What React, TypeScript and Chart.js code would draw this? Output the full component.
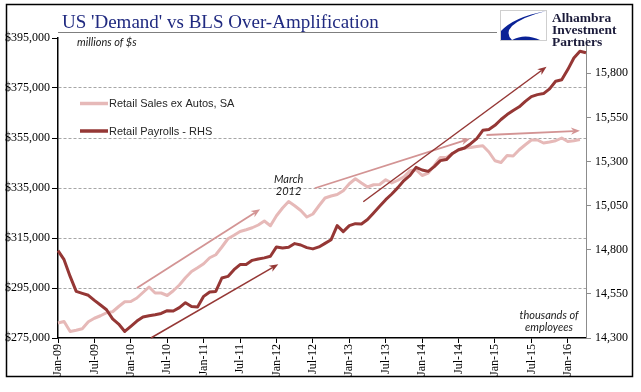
import React, { useEffect, useRef } from "react";
import { Chart, registerables } from "chart.js";

Chart.register(...registerables);

const monthLabels = [
  "Jan-09","Feb-09","Mar-09","Apr-09","May-09","Jun-09","Jul-09","Aug-09","Sep-09","Oct-09","Nov-09","Dec-09",
  "Jan-10","Feb-10","Mar-10","Apr-10","May-10","Jun-10","Jul-10","Aug-10","Sep-10","Oct-10","Nov-10","Dec-10",
  "Jan-11","Feb-11","Mar-11","Apr-11","May-11","Jun-11","Jul-11","Aug-11","Sep-11","Oct-11","Nov-11","Dec-11",
  "Jan-12","Feb-12","Mar-12","Apr-12","May-12","Jun-12","Jul-12","Aug-12","Sep-12","Oct-12","Nov-12","Dec-12",
  "Jan-13","Feb-13","Mar-13","Apr-13","May-13","Jun-13","Jul-13","Aug-13","Sep-13","Oct-13","Nov-13","Dec-13",
  "Jan-14","Feb-14","Mar-14","Apr-14","May-14","Jun-14","Jul-14","Aug-14","Sep-14","Oct-14","Nov-14","Dec-14",
  "Jan-15","Feb-15","Mar-15","Apr-15","May-15","Jun-15","Jul-15","Aug-15","Sep-15","Oct-15","Nov-15","Dec-15",
  "Jan-16","Feb-16","Mar-16","Apr-16",
];

// Retail Sales ex Autos, SA (millions of $, left axis)
const retailSales = [
  281000, 281600, 277600, 278100, 278700, 281500, 282900, 283900, 285100, 285500, 287600, 289500,
  289600, 291000, 293200, 295400, 293000, 293000, 292000, 293900, 296200, 299100, 301600, 303100,
  304700, 307100, 308300, 311400, 314700, 316100, 317600, 318300, 319100, 320200, 321800, 319900,
  323900, 327000, 329600, 327900, 326000, 323400, 324600, 327900, 331000, 331800, 332400, 333900,
  336700, 338700, 337000, 335400, 336300, 336400, 338300, 337000, 338100, 339500, 341900, 342300,
  340000, 341000, 344000, 347200, 347200, 348800, 350200, 351000, 351200, 351600, 351900, 349400,
  345900, 345200, 348000, 347800, 350300, 352300, 354200, 354200, 353000, 353400, 353900, 355000,
  353600, 353900, 354400, null,
];

// Retail Payrolls (thousands of employees, right axis)
const retailPayrolls = [
  14795, 14744, 14649, 14564, 14553, 14542, 14513, 14487, 14460, 14408, 14379, 14337,
  14366, 14396, 14419, 14426, 14432, 14439, 14455, 14453, 14472, 14500, 14479, 14476,
  14536, 14561, 14564, 14640, 14649, 14687, 14716, 14717, 14740, 14748, 14754, 14763,
  14816, 14810, 14814, 14835, 14827, 14812, 14805, 14816, 14836, 14857, 14937, 14903,
  14937, 14948, 14946, 14971, 15009, 15046, 15084, 15116, 15152, 15192, 15222, 15267,
  15252, 15244, 15271, 15305, 15311, 15346, 15367, 15377, 15401, 15430, 15477, 15481,
  15505, 15538, 15566, 15589, 15610, 15641, 15668, 15679, 15685, 15712, 15755, 15763,
  15821, 15887, 15925, 15916,
];

const leftMin = 275000;
const leftMax = 395000;
const leftStep = 20000;
const rightMin = 14300;
const rightMax = 16000;
const rightTickValues = [14300, 14550, 14800, 15050, 15300, 15550, 15800];

const titleText = "US 'Demand' vs BLS Over-Amplification";
const salesLabel = "Retail Sales ex Autos, SA";
const payrollLabel = "Retail Payrolls - RHS";
const logoLines = ["Alhambra", "Investment", "Partners"];

// annotation arrows in (month index, left-axis value)
const DARK = "#953735";
const LIGHT = "#E6B9B8";
const PINK_ARROW = "#D39494";
const annotationArrows = [
  { from: [15.3, 275000], to: [36.3, 304500], color: DARK, width: 1.5 },
  { from: [13.0, 295000], to: [33.3, 326500], color: PINK_ARROW, width: 1.8 },
  { from: [42.3, 334900], to: [67.9, 354700], color: PINK_ARROW, width: 1.8 },
  { from: [50.3, 329500], to: [80.5, 383500], color: DARK, width: 1.5 },
  { from: [70.6, 356200], to: [86.0, 357900], color: PINK_ARROW, width: 1.8 },
];
const marchNote = { index: 38, value: 337000, lines: ["March", "2012"] };

const fmt = (v: number) => Number(v).toLocaleString("en-US");

function drawArrow(ctx: CanvasRenderingContext2D, x1: number, y1: number, x2: number, y2: number, color: string, width: number) {
  const ang = Math.atan2(y2 - y1, x2 - x1);
  const L = 9;
  const W = 3.6;
  ctx.save();
  ctx.strokeStyle = color;
  ctx.fillStyle = color;
  ctx.lineWidth = width;
  ctx.beginPath();
  ctx.moveTo(x1, y1);
  ctx.lineTo(x2 - Math.cos(ang) * L * 0.7, y2 - Math.sin(ang) * L * 0.7);
  ctx.stroke();
  ctx.beginPath();
  ctx.moveTo(x2, y2);
  ctx.lineTo(x2 - L * Math.cos(ang) + W * Math.sin(ang), y2 - L * Math.sin(ang) - W * Math.cos(ang));
  ctx.lineTo(x2 - L * 0.7 * Math.cos(ang), y2 - L * 0.7 * Math.sin(ang));
  ctx.lineTo(x2 - L * Math.cos(ang) - W * Math.sin(ang), y2 - L * Math.sin(ang) + W * Math.cos(ang));
  ctx.closePath();
  ctx.fill();
  ctx.restore();
}

const decorPlugin = {
  id: "decor",
  beforeDraw(chart: any) {
    const ctx = chart.ctx as CanvasRenderingContext2D;
    ctx.save();
    ctx.fillStyle = "#ffffff";
    ctx.fillRect(0, 0, chart.width, chart.height);
    ctx.restore();
  },
  afterDraw(chart: any) {
    const ctx = chart.ctx as CanvasRenderingContext2D;
    const area = chart.chartArea;
    const xs = chart.scales.x;
    const ys = chart.scales.y;
    ctx.save();

    // outer frame
    ctx.strokeStyle = "#000";
    ctx.lineWidth = 1.5;
    ctx.strokeRect(6.5, 4.5, 626, 372);

    // title
    ctx.fillStyle = "#202a80";
    ctx.font = "19px 'Liberation Serif'";
    ctx.textAlign = "left";
    ctx.textBaseline = "alphabetic";
    ctx.fillText(titleText, 62, 28);

    // rule under title
    ctx.strokeStyle = "#7f7f7f";
    ctx.lineWidth = 1;
    ctx.beginPath();
    ctx.moveTo(area.left, 32.5);
    ctx.lineTo(497, 32.5);
    ctx.stroke();

    // logo
    ctx.strokeStyle = "#cfcfcf";
    ctx.lineWidth = 1;
    ctx.strokeRect(500.5, 10.5, 46, 30);
    ctx.fillStyle = "#0a2296";
    ctx.beginPath();
    ctx.moveTo(546, 11);
    ctx.quadraticCurveTo(514, 17, 501, 31);
    ctx.lineTo(501, 40);
    ctx.lineTo(512, 40);
    ctx.quadraticCurveTo(505, 33, 512, 26);
    ctx.quadraticCurveTo(522, 17, 546, 11);
    ctx.closePath();
    ctx.fill();
    ctx.beginPath();
    ctx.moveTo(512, 40);
    ctx.quadraticCurveTo(525, 33, 540, 40);
    ctx.closePath();
    ctx.fill();
    ctx.fillStyle = "#1b1b3a";
    ctx.font = "bold 13.5px 'Liberation Serif'";
    ctx.fillText(logoLines[0], 552, 22);
    ctx.fillText(logoLines[1], 552, 34);
    ctx.fillText(logoLines[2], 552, 46);

    // axis notes
    ctx.fillStyle = "#1a1a1a";
    ctx.font = "italic 11px Lato";
    ctx.textAlign = "left";
    ctx.fillText("millions of $s", 77, 46);
    ctx.textAlign = "center";
    ctx.fillText("thousands of", 549, 319);
    ctx.fillText("employees", 549, 331);

    // March 2012 note
    const mx = xs.getPixelForValue(marchNote.index);
    const my = ys.getPixelForValue(marchNote.value);
    ctx.fillText(marchNote.lines[0], mx, my);
    ctx.fillText(marchNote.lines[1], mx, my + 12);

    // legend
    ctx.lineWidth = 3.5;
    ctx.strokeStyle = LIGHT;
    ctx.beginPath();
    ctx.moveTo(80, 103.5);
    ctx.lineTo(108, 103.5);
    ctx.stroke();
    ctx.strokeStyle = DARK;
    ctx.beginPath();
    ctx.moveTo(80, 131);
    ctx.lineTo(108, 131);
    ctx.stroke();
    ctx.fillStyle = "#262626";
    ctx.font = "11px 'Liberation Sans'";
    ctx.textAlign = "left";
    ctx.textBaseline = "middle";
    ctx.fillText(salesLabel, 109, 104);
    ctx.fillText(payrollLabel, 109, 131.5);

    // arrows
    for (const a of annotationArrows) {
      const x1 = xs.getPixelForValue(a.from[0]);
      const y1 = ys.getPixelForValue(a.from[1]);
      const x2 = xs.getPixelForValue(a.to[0]);
      const y2 = ys.getPixelForValue(a.to[1]);
      drawArrow(ctx, x1, y1, x2, y2, a.color, a.width);
    }
    ctx.restore();
  },
};

export default function App() {
  const ref = useRef<HTMLCanvasElement>(null);
  useEffect(() => {
    document.body.style.margin = "0";
    const tickFont = { family: "'Liberation Serif'", size: 12 };
    const chart = new Chart(ref.current as HTMLCanvasElement, {
      type: "line",
      data: {
        labels: monthLabels,
        datasets: [
          {
            label: payrollLabel,
            data: retailPayrolls,
            yAxisID: "yR",
            borderColor: DARK,
            borderWidth: 3,
            pointRadius: 0,
            borderJoinStyle: "round",
            order: 0,
          },
          {
            label: salesLabel,
            data: retailSales,
            yAxisID: "y",
            borderColor: LIGHT,
            borderWidth: 3,
            pointRadius: 0,
            borderJoinStyle: "round",
            order: 1,
          },
        ],
      },
      options: {
        responsive: false,
        animation: false,
        devicePixelRatio: 1,
        layout: { padding: { top: 38, left: 0, right: 0, bottom: 0 } },
        plugins: { legend: { display: false }, tooltip: { enabled: false }, title: { display: false } },
        scales: {
          x: {
            type: "category",
            offset: false,
            grid: { display: true, drawOnChartArea: false, drawTicks: true, tickLength: 5, color: "#000", tickColor: "#000" },
            border: { display: true, color: "#000", width: 1.5 },
            ticks: {
              autoSkip: false,
              minRotation: 90,
              maxRotation: 90,
              padding: 1,
              color: "#000",
              font: tickFont,
            },
            afterBuildTicks: (s: any) => {
              s.ticks = s.ticks.filter((t: any) => t.value % 6 === 0);
            },
            afterFit: (s: any) => {
              s.height = 54;
            },
          },
          y: {
            position: "left",
            min: leftMin,
            max: leftMax,
            ticks: {
              stepSize: leftStep,
              padding: 2,
              color: "#000",
              font: tickFont,
              callback: (v: any) => "$" + fmt(v),
            },
            grid: {
              color: (c: any) =>
                c.tick && (c.tick.value === leftMin || c.tick.value === leftMax) ? "rgba(0,0,0,0)" : "#a6a6a6",
              tickColor: "#000",
              tickLength: 6,
              lineWidth: 1,
            },
            border: { display: true, color: "#000", width: 1.5, dash: [3, 2] },
            afterFit: (s: any) => {
              s.width = 58;
            },
          },
          yR: {
            position: "right",
            min: rightMin,
            max: rightMax,
            afterBuildTicks: (s: any) => {
              s.ticks = rightTickValues.map((v) => ({ value: v }));
            },
            ticks: {
              padding: 4,
              color: "#000",
              font: tickFont,
              callback: (v: any) => fmt(v),
            },
            grid: { drawOnChartArea: false, tickLength: 5, color: "#8c8c8c", tickColor: "#8c8c8c" },
            border: { display: true, color: "#8c8c8c", width: 1 },
            afterFit: (s: any) => {
              s.width = 55;
            },
          },
        },
      },
      plugins: [decorPlugin],
    } as any);
    return () => chart.destroy();
  }, []);
  return (
    <div style={{ position: "absolute", left: 0, top: 0, width: 641, height: 392 }}>
      <canvas ref={ref} width={641} height={392} style={{ display: "block", width: 641, height: 392 }} />
    </div>
  );
}
